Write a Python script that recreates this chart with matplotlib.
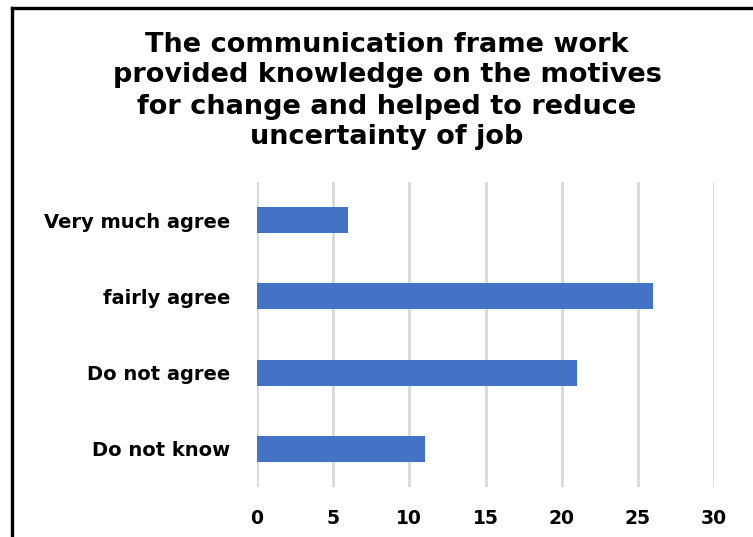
import matplotlib.pyplot as plt
from matplotlib.lines import Line2D

# data
categories = ["Very much agree", "fairly agree", "Do not agree", "Do not know"]
values = [6, 26, 21, 11]
xticks = [0, 5, 10, 15, 20, 25, 30]
title = ("The communication frame work\nprovided knowledge on the motives\n"
         "for change and helped to reduce\nuncertainty of job")

# the reference text is wide and heavy, DejaVu Sans Bold is the closest fit
plt.rcParams['font.family'] = ['DejaVu Sans']

fig = plt.figure(figsize=(7.53, 5.37), dpi=100)
ax = fig.add_axes([257/753, 1-487/537, (714-257)/753, (487-182)/537])

pos = list(range(len(categories)))[::-1]
ax.barh(pos, values, height=0.34, color="#4472C4", zorder=3)

ax.set_xlim(0, 30)
ax.set_ylim(-0.5, 3.5)
ax.set_xticks(xticks)
ax.set_xticklabels([str(t) for t in xticks], fontsize=13.5, fontweight="bold")
ax.set_yticks(pos)
ax.set_yticklabels(categories, fontsize=14, fontweight="bold")
ax.tick_params(axis="both", length=0)
ax.tick_params(axis="x", pad=16)
ax.tick_params(axis="y", pad=19.5)
ax.grid(axis="x", color="#d9d9d9", linewidth=2, zorder=0)
for s in ax.spines.values():
    s.set_visible(False)

fig.text(387/753, 1-91/537, title, ha="center", va="center", fontsize=19.5,
         fontweight="bold", linespacing=1.25)

# frame border on the left and top
fig.add_artist(Line2D([12/753, 12/753], [0, 1-8/537], color="black", linewidth=2.4))
fig.add_artist(Line2D([12/753, 1], [1-8/537, 1-8/537], color="black", linewidth=2.4))

fig.savefig("out.png", dpi=100)
